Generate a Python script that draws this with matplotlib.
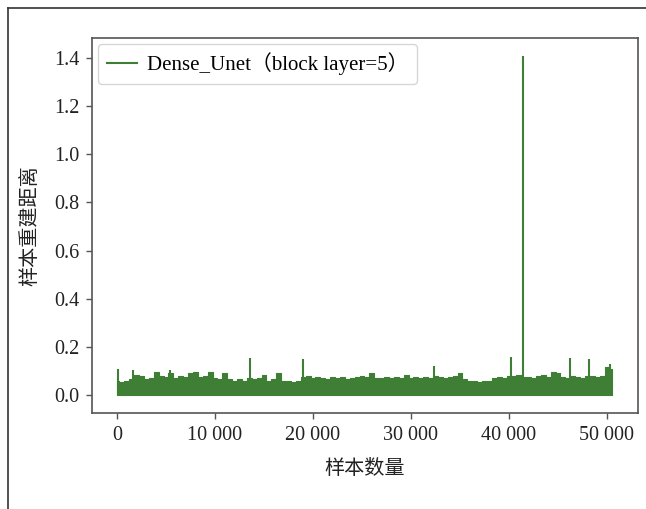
import matplotlib
matplotlib.use("Agg")
import matplotlib.pyplot as plt
from matplotlib.lines import Line2D
import numpy as np

GREEN = "#3f7f35"
SPINE = "#555555"

# upper envelope of the dense band, one value per 500 samples
ENV_STEP = 500
ENV_TOP = [
    0.060, 0.055, 0.060, 0.065, 0.085, 0.080, 0.065, 0.070, 0.095, 0.080,
    0.075, 0.090, 0.070, 0.080, 0.075, 0.090, 0.095, 0.075, 0.080, 0.095,
    0.070, 0.065, 0.090, 0.065, 0.060, 0.065, 0.060, 0.070, 0.065, 0.070,
    0.085, 0.060, 0.065, 0.090, 0.060, 0.060, 0.055, 0.060, 0.075, 0.080,
    0.070, 0.075, 0.070, 0.065, 0.075, 0.070, 0.075, 0.065, 0.070, 0.075,
    0.080, 0.075, 0.090, 0.070, 0.070, 0.075, 0.070, 0.075, 0.070, 0.085,
    0.070, 0.075, 0.070, 0.075, 0.070, 0.080, 0.075, 0.070, 0.075, 0.080,
    0.090, 0.065, 0.060, 0.060, 0.055, 0.060, 0.060, 0.070, 0.075, 0.070,
    0.080, 0.080, 0.085, 0.075, 0.075, 0.070, 0.080, 0.085, 0.075, 0.095,
    0.090, 0.075, 0.070, 0.080, 0.075, 0.070, 0.080, 0.080, 0.075, 0.080,
    0.115, 0.110,
]
BAND_LOW = 0.002

# isolated spikes: sample index and height
SPIKE_X = [100, 1650, 5400, 13550, 19000, 32300, 40200, 41400, 46200, 48150, 50300]
SPIKE_Y = [0.107, 0.105, 0.105, 0.155, 0.150, 0.120, 0.157, 1.410, 0.152, 0.150, 0.128]

XTICKS = [0, 10000, 20000, 30000, 40000, 50000]
XTICK_LABELS = ["0", "10 000", "20 000", "30 000", "40 000", "50 000"]
YTICKS = [0.0, 0.2, 0.4, 0.6, 0.8, 1.0, 1.2, 1.4]

SERIF = ["Liberation Serif", "Noto Sans CJK SC", "DejaVu Sans"]
CJK = ["Noto Sans CJK SC", "DejaVu Sans"]

fig = plt.figure(figsize=(6.46, 5.09), dpi=100)
ax = fig.add_axes([0.1424, 0.1886, 0.8452, 0.7367])

env_x = np.arange(len(ENV_TOP)) * ENV_STEP
ax.fill_between(env_x, BAND_LOW, ENV_TOP, step="mid", color=GREEN, linewidth=0.8,
                edgecolor=GREEN)
ax.vlines(SPIKE_X, BAND_LOW, SPIKE_Y, color=GREEN, linewidth=1.5)

ax.set_xlim(-2551, 53163)
ax.set_ylim(-0.0748, 1.483)
ax.set_xticks(XTICKS)
ax.set_xticklabels(XTICK_LABELS, family=SERIF, fontsize=14.5)
ax.set_yticks(YTICKS)
ax.set_yticklabels([f"{v:.1f}" for v in YTICKS], family=SERIF, fontsize=14.5)
ax.tick_params(direction="out", length=4, width=1, color=SPINE, pad=5, labelcolor="#222222")
for side in ("top", "right", "bottom", "left"):
    ax.spines[side].set_color(SPINE)
    ax.spines[side].set_linewidth(1.2)

ax.set_xlabel("样本数量", family=CJK, fontsize=14.5, color="#222222", labelpad=10)
ax.set_ylabel("样本重建距离", family=CJK, fontsize=14.5, color="#222222", labelpad=10)

handle = Line2D([], [], color=GREEN, linewidth=1.5)
leg = ax.legend([handle], ["Dense_Unet（block layer=5）"], loc="upper left",
                prop={"family": SERIF, "size": 15}, frameon=True, fancybox=True,
                handlelength=1.45, handletextpad=0.5, borderpad=0.4, borderaxespad=0.3)
leg.get_frame().set_edgecolor("#cccccc")
leg.get_frame().set_linewidth(1.0)

# page frame lines at the top and left of the picture
fig.add_artist(Line2D([7.5 / 646, 7.5 / 646], [0, 1 - 7.5 / 509], color="#333333",
                      linewidth=1.2, transform=fig.transFigure))
fig.add_artist(Line2D([7.5 / 646, 1], [1 - 7.5 / 509, 1 - 7.5 / 509], color="#333333",
                      linewidth=1.2, transform=fig.transFigure))

fig.savefig("out.png", dpi=100)
